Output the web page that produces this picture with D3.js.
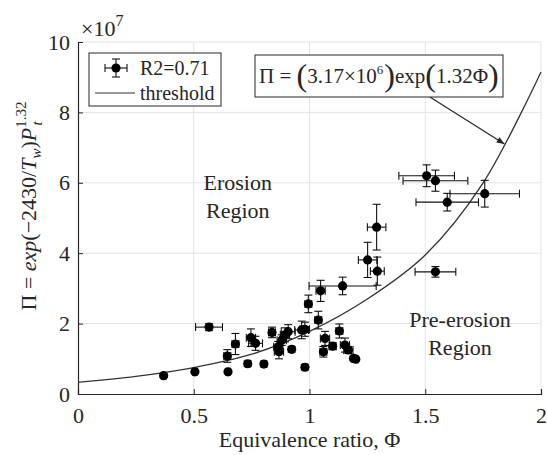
<!DOCTYPE html>
<html>
<head>
<meta charset="utf-8">
<script src="https://cdn.jsdelivr.net/npm/d3@7"></script>
<style>
  body { margin: 0; background: #fff; }
  svg text { font-family: "Liberation Serif", "DejaVu Serif", serif; fill: #262626; }
</style>
</head>
<body>
<svg id="chart" width="547" height="455"></svg>
<script>
/// Measured points (Pi values in units of 1e7)
var phi    = [0.37, 0.505, 0.566, 0.645, 0.648, 0.68, 0.733, 0.747, 0.767, 0.803,
              0.838, 0.868, 0.865, 0.88, 0.894, 0.908, 0.923, 0.966, 0.98, 0.98,
              0.995, 1.038, 1.048, 1.143, 1.067, 1.06, 1.10, 1.129, 1.153, 1.168,
              1.19, 1.20, 1.29, 1.251, 1.293, 1.506, 1.544, 1.595, 1.757, 1.544]
var piVal  = [0.52, 0.63, 1.90, 1.08, 0.63, 1.42, 0.86, 1.60, 1.44, 0.85,
              1.75, 1.20, 1.34, 1.53, 1.68, 1.77, 1.27, 1.82, 1.84, 0.76,
              2.56, 2.10, 2.93, 3.07, 1.58, 1.20, 1.36, 1.79, 1.39, 1.25,
              1.01, 0.99, 4.74, 3.81, 3.49, 6.20, 6.06, 5.45, 5.69, 3.47]
var phiErr = [0.01, 0.01, 0.058, 0.015, 0.01, 0.015, 0.01, 0.02, 0.03, 0.01,
              0.015, 0.02, 0.02, 0.02, 0.02, 0.03, 0.01, 0.03, 0.02, 0.01,
              0.015, 0.015, 0.02, 0.145, 0.02, 0.015, 0.015, 0.015, 0.02, 0.02,
              0.01, 0.01, 0.04, 0.04, 0.03, 0.12, 0.14, 0.135, 0.15, 0.088]
var piErr  = [0.05, 0.05, 0.1, 0.18, 0.05, 0.3, 0.08, 0.25, 0.2, 0.08,
              0.15, 0.2, 0.15, 0.15, 0.2, 0.2, 0.08, 0.25, 0.2, 0.08,
              0.25, 0.25, 0.3, 0.25, 0.2, 0.15, 0.1, 0.2, 0.2, 0.1,
              0.05, 0.05, 0.65, 0.5, 0.4, 0.31, 0.3, 0.25, 0.38, 0.15]

/// Threshold curve
var curvePhi = [0, 0.25, 0.5, 0.75, 1.0, 1.25, 1.5, 1.75, 2.0]
var curvePi  = [0.33, 0.50, 0.75, 1.13, 1.78, 2.70, 3.95, 6.00, 9.15]

var xTicks = [0, 0.5, 1, 1.5, 2]
var yTicks = [0, 2, 4, 6, 8, 10]

var m = {left: 78, top: 42, right: 541, bottom: 394}
var axisColor = "#262626"

var x = d3.scaleLinear().domain([0, 2]).range([m.left, m.right])
var y = d3.scaleLinear().domain([0, 10]).range([m.bottom, m.top])

var svg = d3.select("#chart")

/// Grid
svg.append("g").selectAll("line.gx").data(xTicks.slice(1)).enter().append("line")
    .attr("x1", d => x(d)).attr("x2", d => x(d))
    .attr("y1", m.top).attr("y2", m.bottom)
    .attr("stroke", "#e3e3e3").attr("stroke-width", 1)
svg.append("g").selectAll("line.gy").data(yTicks.slice(1)).enter().append("line")
    .attr("x1", m.left).attr("x2", m.right)
    .attr("y1", d => y(d)).attr("y2", d => y(d))
    .attr("stroke", "#e3e3e3").attr("stroke-width", 1)

/// Axes (ticks pointing inward, like matlab)
var xAxis = svg.append("g").attr("transform", "translate(0," + m.bottom + ")")
    .call(d3.axisBottom(x).tickValues(xTicks).tickSize(-5).tickPadding(13).tickFormat(d3.format("~g")))
var yAxis = svg.append("g").attr("transform", "translate(" + m.left + ",0)")
    .call(d3.axisLeft(y).tickValues(yTicks).tickSize(-5).tickPadding(8).tickFormat(d3.format("~g")))
;[xAxis, yAxis].forEach(function(a) {
    a.select(".domain").attr("stroke", axisColor).attr("stroke-width", 1.2)
    a.selectAll(".tick line").attr("stroke", axisColor)
    a.selectAll(".tick text").attr("font-size", 22).attr("fill", axisColor)
        .style("font-family", "Liberation Serif")
})

/// x10^7 exponent label
var ex = svg.append("text").attr("x", m.left + 3).attr("y", m.top - 6).attr("font-size", 22)
ex.append("tspan").text("×10")
ex.append("tspan").attr("font-size", 16).attr("dy", -10).text("7")

/// Threshold curve
var line = d3.line().x(d => x(d[0])).y(d => y(d[1])).curve(d3.curveCatmullRom)
svg.append("path").datum(d3.zip(curvePhi, curvePi))
    .attr("d", line).attr("fill", "none").attr("stroke", "#333").attr("stroke-width", 1.3)

/// Error bars and markers
var pts = d3.range(phi.length).map(i => ({x: phi[i], y: piVal[i], ex: phiErr[i], ey: piErr[i]}))
var cap = 4
var eb = svg.append("g").attr("stroke", "#111").attr("stroke-width", 1.1)
pts.forEach(function(p) {
    var cx = x(p.x), cy = y(p.y)
    var x0 = x(p.x - p.ex), x1 = x(p.x + p.ex), y0 = y(p.y - p.ey), y1 = y(p.y + p.ey)
    eb.append("line").attr("x1", x0).attr("x2", x1).attr("y1", cy).attr("y2", cy)
    eb.append("line").attr("x1", x0).attr("x2", x0).attr("y1", cy - cap).attr("y2", cy + cap)
    eb.append("line").attr("x1", x1).attr("x2", x1).attr("y1", cy - cap).attr("y2", cy + cap)
    eb.append("line").attr("x1", cx).attr("x2", cx).attr("y1", y0).attr("y2", y1)
    eb.append("line").attr("x1", cx - cap).attr("x2", cx + cap).attr("y1", y0).attr("y2", y0)
    eb.append("line").attr("x1", cx - cap).attr("x2", cx + cap).attr("y1", y1).attr("y2", y1)
})
svg.append("g").selectAll("circle").data(pts).enter().append("circle")
    .attr("cx", d => x(d.x)).attr("cy", d => y(d.y)).attr("r", 4.6).attr("fill", "#000")

/// Region labels
function label(lines, px, py) {
    lines.forEach(function(t, i) {
        svg.append("text").attr("x", x(px)).attr("y", y(py) + i * 28)
            .attr("text-anchor", "middle").attr("font-size", 22).text(t)
    })
}
label(["Erosion", "Region"], 0.69, 5.8)
label(["Pre-erosion", "Region"], 1.65, 1.9)

/// Legend
var lg = svg.append("g").attr("transform", "translate(89,53)")
lg.append("rect").attr("width", 132).attr("height", 53).attr("fill", "#fff")
    .attr("stroke", axisColor).attr("stroke-width", 1)
var lm = lg.append("g").attr("stroke", "#111").attr("stroke-width", 1.1)
lm.append("line").attr("x1", 16).attr("x2", 38).attr("y1", 15).attr("y2", 15)
lm.append("line").attr("x1", 27).attr("x2", 27).attr("y1", 6).attr("y2", 24)
lm.append("line").attr("x1", 16).attr("x2", 16).attr("y1", 11).attr("y2", 19)
lm.append("line").attr("x1", 38).attr("x2", 38).attr("y1", 11).attr("y2", 19)
lm.append("line").attr("x1", 23).attr("x2", 31).attr("y1", 6).attr("y2", 6)
lm.append("line").attr("x1", 23).attr("x2", 31).attr("y1", 24).attr("y2", 24)
lg.append("circle").attr("cx", 27).attr("cy", 15).attr("r", 4.6).attr("fill", "#000")
lg.append("text").attr("x", 51).attr("y", 22).attr("font-size", 20).text("R2=0.71")
lg.append("line").attr("x1", 6).attr("x2", 46).attr("y1", 40).attr("y2", 40)
    .attr("stroke", "#333").attr("stroke-width", 1.2)
lg.append("text").attr("x", 51).attr("y", 47).attr("font-size", 20).text("threshold")

/// Annotation box with arrow
svg.append("defs").append("marker").attr("id", "ah")
    .attr("viewBox", "0 0 10 10").attr("refX", 10).attr("refY", 5)
    .attr("markerWidth", 9).attr("markerHeight", 7).attr("orient", "auto")
    .append("path").attr("d", "M0,1 L10,5 L0,9 Z").attr("fill", "#222")
svg.append("line").attr("x1", x(1.52)).attr("y1", 97).attr("x2", x(1.842)).attr("y2", y(7.1))
    .attr("stroke", "#222").attr("stroke-width", 1.1).attr("marker-end", "url(#ah)")
svg.append("rect").attr("x", 255).attr("y", 55).attr("width", 248).attr("height", 42)
    .attr("fill", "#fff").attr("stroke", axisColor).attr("stroke-width", 1)
var an = svg.append("text").attr("x", 259).attr("y", 83).attr("font-size", 21)
an.append("tspan").text("Π = ")
an.append("tspan").attr("font-size", 32).attr("dy", 3).text("(")
an.append("tspan").attr("dy", -3).text("3.17×10")
an.append("tspan").attr("font-size", 13).attr("dy", -9).text("6")
an.append("tspan").attr("font-size", 32).attr("dy", 12).attr("dx", 1).text(")")
an.append("tspan").attr("dy", -3).text("exp")
an.append("tspan").attr("font-size", 32).attr("dy", 3).text("(")
an.append("tspan").attr("dy", -3).text("1.32Φ")
an.append("tspan").attr("font-size", 32).attr("dy", 3).text(")")

/// Axis titles
svg.append("text").attr("x", (m.left + m.right) / 2).attr("y", 447)
    .attr("text-anchor", "middle").attr("font-size", 22).text("Equivalence ratio, Φ")

var yl = svg.append("text").attr("transform", "translate(36," + ((m.top + m.bottom) / 2 - 12) + ") rotate(-90)")
    .attr("text-anchor", "middle").attr("font-size", 22)
yl.append("tspan").text("Π = ")
yl.append("tspan").attr("font-style", "italic").text("exp")
yl.append("tspan").text("(−2430/")
yl.append("tspan").attr("font-style", "italic").text("T")
yl.append("tspan").attr("font-style", "italic").attr("font-size", 15).attr("dy", 5).text("w")
yl.append("tspan").attr("dy", -5).text(")")
yl.append("tspan").attr("font-style", "italic").text("P")
yl.append("tspan").attr("font-size", 15).attr("dy", -10).text("1.32")
yl.append("tspan").attr("font-style", "italic").attr("font-size", 15).attr("dx", -24).attr("dy", 16).text("t")
</script>
</body>
</html>
